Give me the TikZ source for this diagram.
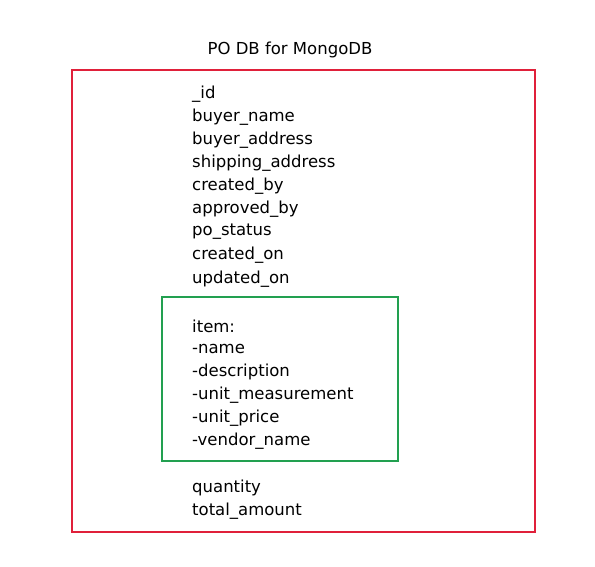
\documentclass[tikz,border=0pt]{standalone}
\usepackage{fontspec}
\setmainfont{DejaVu Sans}
\definecolor{boxred}{HTML}{E0203A}
\definecolor{boxgreen}{HTML}{22A050}
\begin{document}
\begin{tikzpicture}[x=1pt,y=-1pt]
		\tikzset{field/.style={anchor=west,inner sep=0pt,font=\fontsize{16.5}{18}\selectfont}}
		\useasboundingbox (0,0) rectangle (595,567);
		\path 
		(72,70)coordinate (A)++(463,0)coordinate (B)
		++(0,462)coordinate (C)++(-463,0)coordinate (D)
		(162,297)coordinate (E)++(236,0)coordinate (F)
		++(0,164)coordinate (G)++(-236,0)coordinate (H)
		;
		\node[font=\fontsize{16.5}{18}\selectfont] (title) at (290,50) {PO DB for MongoDB};
		\path (192,94) node[field] (id) {\_id}
		(192,117) node[field] (bname) {buyer\_name}
		(192,140) node[field] (baddr) {buyer\_address}
		(192,163) node[field] (saddr) {shipping\_address}
		(192,186) node[field] (cby) {created\_by}
		(192,209) node[field] (aby) {approved\_by}
		(192,232) node[field] (status) {po\_status}
		(192,255) node[field] (con) {created\_on}
		(192,279) node[field] (uon) {updated\_on}
		(192,326) node[field] (item) {item:}
		(192,349) node[field] (iname) {-name}
		(192,372) node[field] (idesc) {-description}
		(192,395) node[field] (imeas) {-unit\_measurement}
		(192,418) node[field] (iprice) {-unit\_price}
		(192,441) node[field] (ivendor) {-vendor\_name}
		(192,488) node[field] (qty) {quantity}
		(192,511) node[field] (total) {total\_amount};
		\draw[boxred,line width=1.8pt] (A)--(B)--(C)--(D)--cycle;
		\draw[boxgreen,line width=1.8pt] (E)--(F)--(G)--(H)--cycle;
	\end{tikzpicture}
\end{document}
